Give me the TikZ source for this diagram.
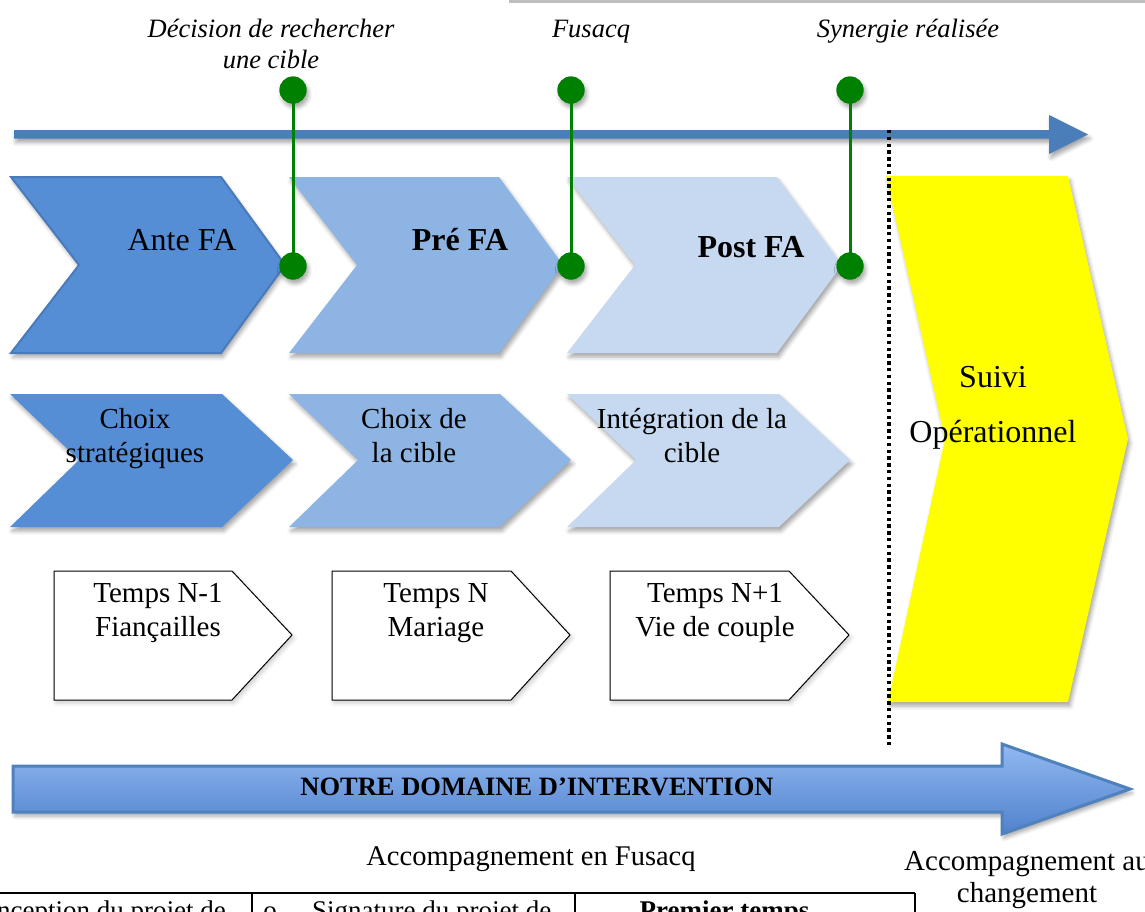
\documentclass[tikz,border=0pt]{standalone}
\usepackage{fontspec}
\setmainfont{Liberation Serif}
\usetikzlibrary{shadows.blur}

\definecolor{axisblue}{RGB}{74,126,187}
\definecolor{phaseA}{RGB}{85,142,213}
\definecolor{phaseAedge}{RGB}{72,122,188}
\definecolor{phaseB}{RGB}{142,180,227}
\definecolor{phaseC}{RGB}{198,217,241}
\definecolor{milestone}{RGB}{0,128,0}
\definecolor{followup}{RGB}{255,255,0}
\definecolor{domainTop}{RGB}{146,184,242}
\definecolor{domainBot}{RGB}{80,130,204}
\definecolor{domainEdge}{RGB}{79,129,189}
\definecolor{topbar}{RGB}{190,190,190}

% two centred lines, baseline on the first one
\newcommand{\twoline}[2]{\begin{tabular}[t]{@{}c@{}}#1\\#2\end{tabular}}
\newcommand{\fsz}[2]{\fontsize{#1}{#2}\selectfont}

\tikzset{
  softshadow/.style={blur shadow={shadow xshift=2pt, shadow yshift=-4pt,
      shadow blur radius=4pt, shadow opacity=35}},
  lightshadow/.style={blur shadow={shadow xshift=2pt, shadow yshift=-3pt,
      shadow blur radius=4pt, shadow opacity=20}},
  phaseA/.style={fill=phaseA, softshadow},
  phaseB/.style={fill=phaseB, softshadow},
  phaseC/.style={fill=phaseC, softshadow},
  timebox/.style={fill=white, draw=black, line width=1pt, lightshadow},
  gdot/.style={circle, fill=milestone, minimum size=27pt, inner sep=0pt, softshadow},
  gline/.style={draw=milestone, line width=3pt},
  txt/.style={inner sep=0pt, anchor=base},
  tableline/.style={draw=black, line width=1.6pt},
}

\begin{document}
\begin{tikzpicture}[x=1pt, y=-1pt]
\useasboundingbox (0,0) rectangle (1145,911);
\clip (0,0) rectangle (1145,911);

% thin grey rule along the top edge
\fill[topbar] (509,0) rectangle (1145,2.7);

% time axis
\fill[axisblue, softshadow] (14,130) -- (1049,130) -- (1049,115) -- (1088,134.5)
  -- (1049,154) -- (1049,138.5) -- (14,138.5) -- cycle;

% phases
\path[phaseA, draw=phaseAedge, line width=2pt]
  (11,177) -- (221,177) -- (285,265) -- (221,353) -- (11,353) -- (79,265) -- cycle;
\path[phaseB] (289,177) -- (499,177) -- (563,265) -- (499,353) -- (289,353) -- (357,265) -- cycle;
\path[phaseC] (567,177) -- (777,177) -- (842,265) -- (777,353) -- (567,353) -- (635,265) -- cycle;

% activities
\path[phaseA] (10,394) -- (222,394) -- (293,460) -- (222,527) -- (10,527) -- (79,460) -- cycle;
\path[phaseB] (289,394) -- (500,394) -- (571,460) -- (500,527) -- (289,527) -- (358,460) -- cycle;
\path[phaseC] (567,394) -- (779,394) -- (850,460) -- (779,527) -- (567,527) -- (636,460) -- cycle;

% time steps
\path[timebox] (54,571) -- (232,571) -- (292,635) -- (232,700) -- (54,700) -- cycle;
\path[timebox] (332,571) -- (511,571) -- (570,635) -- (511,700) -- (332,700) -- cycle;
\path[timebox] (610,571) -- (789,571) -- (849,635) -- (789,700) -- (610,700) -- cycle;

% operational follow-up
\path[fill=followup, softshadow]
  (886,176) -- (1068,176) -- (1128,439) -- (1068,702) -- (888,702) -- (945,439) -- cycle;

% separation line
\coordinate (sepTop) at (889,130);
\coordinate (sepBot) at (889,745);
\draw[line width=3.4pt, dash pattern=on 3.4pt off 3.4pt] (sepTop) -- (sepBot);

% milestones
\node[gdot] (m1top) at (293,90) {};
\node[gdot] (m1bot) at (293,266) {};
\node[gdot] (m2top) at (571,90) {};
\node[gdot] (m2bot) at (571,266) {};
\node[gdot] (m3top) at (850,90) {};
\node[gdot] (m3bot) at (850,266) {};
\draw[gline] (m1top.center) -- (m1bot.center);
\draw[gline] (m2top.center) -- (m2bot.center);
\draw[gline] (m3top.center) -- (m3bot.center);
\fill[milestone] (m1top) circle (13.5) (m1bot) circle (13.5)
  (m2top) circle (13.5) (m2bot) circle (13.5)
  (m3top) circle (13.5) (m3bot) circle (13.5);

% intervention arrow
\path[top color=domainTop, bottom color=domainBot, draw=domainEdge, line width=3pt, softshadow]
  (13,766) -- (1002,766) -- (1002,744) -- (1130,789) -- (1002,834) -- (1002,812)
  -- (13,812) -- cycle;

% milestone captions
\node[txt] (cap1) at (271,37) {\fsz{26.5}{31}\itshape\twoline{Décision de rechercher}{une cible}};
\node[txt] (cap2) at (591,37) {\fsz{26.5}{31}\itshape Fusacq};
\node[txt] (cap3) at (908,37) {\fsz{26.5}{31}\itshape Synergie réalisée};

% phase names
\node[txt] (ante) at (182,250) {\fsz{32}{38}Ante FA};
\node[txt] (pre)  at (460,250) {\fsz{32}{38}\bfseries Pré FA};
\node[txt] (post) at (751,257) {\fsz{32}{38}\bfseries Post FA};

% activity names
\node[txt] (act1) at (135,428) {\fsz{29}{34}\twoline{Choix}{stratégiques}};
\node[txt] (act2) at (414,428) {\fsz{29}{34}\twoline{Choix de}{la cible}};
\node[txt] (act3) at (692,428) {\fsz{29}{34}\twoline{Intégration de la}{cible}};

% time step names
\node[txt] (t1) at (158,602) {\fsz{29}{34}\twoline{Temps N-1}{Fiançailles}};
\node[txt] (t2) at (436,602) {\fsz{29}{34}\twoline{Temps N}{Mariage}};
\node[txt] (t3) at (715,602) {\fsz{29}{34}\twoline{Temps N+1}{Vie de couple}};

\node[txt] (suivi) at (993,387) {\fsz{32}{55}\twoline{Suivi}{Opérationnel}};

\node[txt] (domain) at (537,795) {\fsz{26.5}{31}\bfseries NOTRE DOMAINE D’INTERVENTION};
\node[txt] (fusacq) at (531,865) {\fsz{28.5}{34}Accompagnement en Fusacq};
\node[txt] (change) at (1027,870) {\fsz{29}{32}\twoline{Accompagnement au}{changement}};

% table below
\draw[tableline] (-5,893) -- (915,893);
\draw[tableline] (252,893) -- (252,930);
\draw[tableline] (575,893) -- (575,930);
\draw[tableline] (915,893) -- (915,930);
\node[txt, anchor=base east] (cell1) at (226,919) {\fsz{27}{32}Conception du projet de};
\node[txt] (bullet2) at (270,919) {\fsz{27}{32}o};
\node[txt, anchor=base west] (cell2) at (312,919) {\fsz{27}{32}Signature du projet de};
\node[txt] (cell3) at (724.5,919) {\fsz{27}{32}\bfseries Premier temps};
\end{tikzpicture}
\end{document}
